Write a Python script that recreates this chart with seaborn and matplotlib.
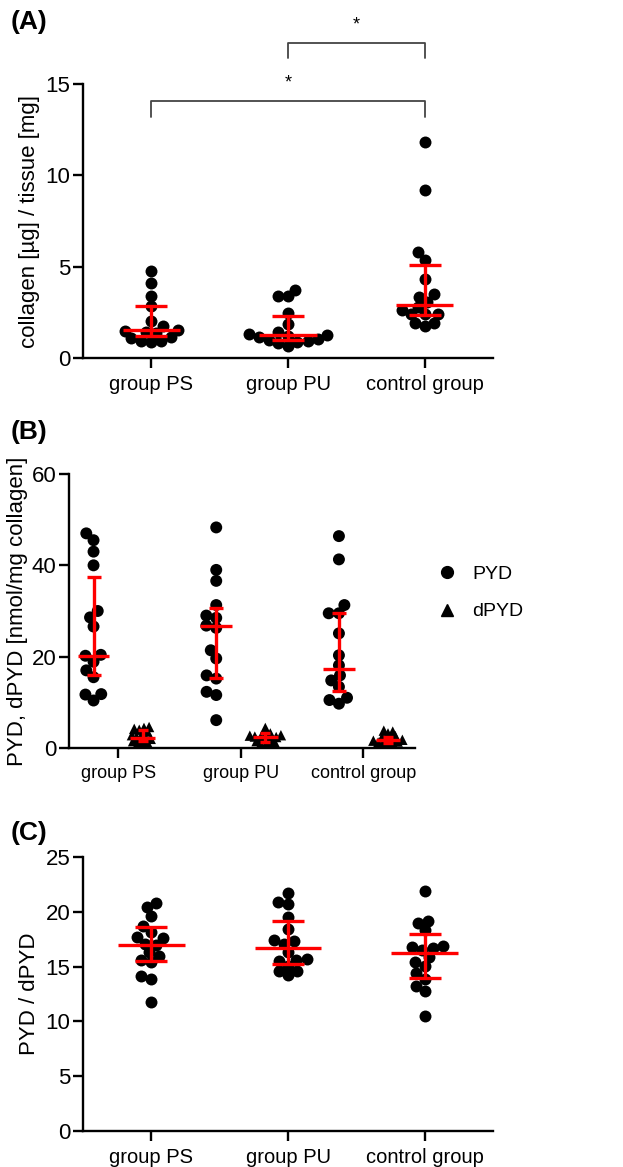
import numpy as np
import pandas as pd
import matplotlib
matplotlib.use("Agg")
import matplotlib.pyplot as plt
from matplotlib.lines import Line2D
import seaborn as sns

sns.set_style("ticks")
plt.rcParams['font.family'] = ['Liberation Sans', 'DejaVu Sans']
plt.rcParams['text.color'] = 'black'
plt.rcParams['axes.labelcolor'] = 'black'

groups = ["group PS", "group PU", "control group"]

# (A) collagen content
coll_ps = [4.74, 4.12, 3.41, 2.85, 2.03, 1.76, 1.55, 1.48, 1.42, 1.38, 1.15, 1.08, 0.95, 0.91, 0.90]
coll_pu = [3.75, 3.42, 3.38, 2.48, 1.84, 1.40, 1.32, 1.28, 1.22, 1.15, 1.05, 1.00, 0.95, 0.88, 0.82, 0.68]
coll_ctrl = [11.84, 9.20, 5.78, 5.36, 4.32, 3.48, 3.36, 3.08, 2.81, 2.63, 2.39, 2.39, 2.39, 1.90, 1.90, 1.75]
coll_med = [1.51, 1.24, 2.88]
coll_q1 = [1.19, 0.97, 2.34]
coll_q3 = [2.83, 2.28, 5.07]

# (B) PYD and dPYD
pyd_ps = [47.0, 45.5, 43.0, 40.0, 30.0, 28.6, 26.6, 20.4, 20.2, 18.9, 17.0, 15.5, 11.8, 11.7, 10.4]
pyd_pu = [48.3, 39.0, 36.6, 31.3, 29.0, 28.5, 26.8, 26.3, 21.4, 19.6, 15.9, 15.2, 12.3, 11.6, 6.1]
pyd_ctrl = [46.4, 41.3, 31.3, 29.5, 29.5, 25.1, 20.3, 18.1, 15.9, 14.8, 13.4, 11.0, 10.5, 9.7]
dpyd_ps = [4.6, 4.4, 4.2, 4.0, 3.6, 3.2, 2.8, 2.4, 2.2, 2.0, 1.8, 1.5, 1.2, 1.0, 0.8]
dpyd_pu = [4.4, 3.2, 3.0, 2.8, 2.7, 2.5, 2.4, 2.3, 2.1, 1.9, 1.5, 1.3, 1.1, 0.8, 0.5]
dpyd_ctrl = [3.8, 3.6, 3.2, 2.6, 2.3, 2.0, 1.8, 1.7, 1.6, 1.4, 1.2, 1.0, 0.9, 0.7]
pyd_med = [20.2, 26.7, 17.4]
pyd_q1 = [15.9, 15.4, 12.4]
pyd_q3 = [37.5, 30.6, 29.5]
dpyd_med = [2.2, 2.3, 1.7]
dpyd_q1 = [1.5, 1.3, 1.1]
dpyd_q3 = [3.9, 3.2, 2.4]

# (C) PYD / dPYD ratio
ratio_ps = [20.8, 20.4, 19.6, 18.7, 18.2, 17.7, 17.6, 17.1, 17.0, 16.3, 16.0, 15.6, 15.4, 14.1, 13.9, 11.8]
ratio_pu = [21.7, 20.9, 20.7, 19.5, 18.4, 17.4, 17.3, 17.1, 16.3, 15.7, 15.6, 15.5, 15.1, 14.6, 14.6, 14.2]
ratio_ctrl = [21.9, 19.2, 19.0, 18.3, 16.9, 16.8, 16.7, 16.5, 15.9, 15.4, 15.1, 14.4, 13.9, 13.2, 12.8, 10.5]
ratio_med = [17.0, 16.7, 16.2]
ratio_q1 = [15.5, 15.2, 14.0]
ratio_q3 = [18.6, 19.2, 18.0]


def long_df(lists, kind=None):
    rows = []
    for g, vals in zip(groups, lists):
        for v in vals:
            rows.append({"group": g, "value": v, "kind": kind})
    return pd.DataFrame(rows)


# swarm is laid out with a smaller marker, then shown bigger (points overlap like the original)
resize = []


def swarm(ax, layout_size, show_size, **kw):
    n = len(ax.collections)
    sns.swarmplot(ax=ax, size=layout_size, zorder=3, **kw)
    for c in ax.collections[n:]:
        resize.append((c, show_size))


def med_iqr(ax, pos, med, q1, q3, half, cap, lw=2.4):
    pos = np.asarray(pos, dtype=float)
    med = np.asarray(med)
    ax.hlines(med, pos - half, pos + half, color="red", lw=lw, zorder=5)
    ax.errorbar(pos, med, yerr=[med - np.asarray(q1), np.asarray(q3) - med],
                fmt="none", ecolor="red", elinewidth=lw, capsize=cap,
                capthick=lw, zorder=5)


def style_axis(ax, yticks, xmin, xmax, xfs=14.5, yfs=16):
    sns.despine(ax=ax)
    ax.set_xlim(xmin, xmax)
    ax.set_ylim(yticks[0], yticks[-1])
    ax.set_yticks(yticks)
    ax.set_xlabel("")
    for s in ["left", "bottom"]:
        ax.spines[s].set_linewidth(1.7)
        ax.spines[s].set_color("black")
    ax.tick_params(axis="both", width=1.7, length=7, color="black", labelcolor="black")
    ax.tick_params(axis="x", labelsize=xfs, pad=5)
    ax.tick_params(axis="y", labelsize=yfs, pad=2)


fig = plt.figure(figsize=(6.23, 11.67), dpi=100)
W, H = 623, 1167
axA = fig.add_axes([83 / W, 1 - 358 / H, 410 / W, 274 / H])
axB = fig.add_axes([69 / W, 1 - 748 / H, 346 / W, 274 / H])
axC = fig.add_axes([83 / W, 1 - 1131 / H, 410 / W, 274 / H])

# panel A
dfA = long_df([coll_ps, coll_pu, coll_ctrl])
swarm(axA, 7.0, 8.6, data=dfA, x="group", y="value", order=groups, color="black")
med_iqr(axA, range(3), coll_med, coll_q1, coll_q3, 0.21, 11.5)
style_axis(axA, [0, 5, 10, 15], -0.5, 2.5)
axA.set_ylabel("collagen [µg] / tissue [mg]", fontsize=16, labelpad=4)
br = "#444444"
axA.plot([1, 1, 2, 2], [16.42, 17.24, 17.24, 16.42], color=br, lw=1.3, clip_on=False)
axA.text(1.5, 18.25, "*", ha="center", va="center", fontsize=13)
axA.plot([0, 0, 2, 2], [13.19, 14.07, 14.07, 13.19], color=br, lw=1.3, clip_on=False)
axA.text(1.0, 15.05, "*", ha="center", va="center", fontsize=13)

# panel B
dfB_pyd = long_df([pyd_ps, pyd_pu, pyd_ctrl], "PYD")
dfB_dpyd = long_df([dpyd_ps, dpyd_pu, dpyd_ctrl], "dPYD")
kinds = ["PYD", "dPYD"]
swarm(axB, 7.0, 8.6, data=dfB_pyd, x="group", y="value", hue="kind", hue_order=kinds,
      order=groups, dodge=True, palette=["black", "black"], marker="o", legend=False)
swarm(axB, 3.5, 7.5, data=dfB_dpyd, x="group", y="value", hue="kind", hue_order=kinds,
      order=groups, dodge=True, palette=["black", "black"], marker="^", legend=False)
pos = np.arange(3)
med_iqr(axB, pos - 0.2, pyd_med, pyd_q1, pyd_q3, 0.13, 5)
med_iqr(axB, pos + 0.2, dpyd_med, dpyd_q1, dpyd_q3, 0.1, 3.6)
style_axis(axB, [0, 20, 40, 60], -0.4, 2.42, xfs=13, yfs=16)
axB.set_ylabel("PYD, dPYD [nmol/mg collagen]", fontsize=16, labelpad=3)
handles = [Line2D([], [], ls="none", marker="o", color="black", markersize=8.5),
           Line2D([], [], ls="none", marker="^", color="black", markersize=8.5)]
fig.legend(handles, kinds, loc="center left", bbox_to_anchor=(420 / W, 1 - 593 / H),
           frameon=False, fontsize=14, handletextpad=0.8, labelspacing=1.0,
           handlelength=1.0)

# panel C
dfC = long_df([ratio_ps, ratio_pu, ratio_ctrl])
swarm(axC, 7.0, 8.6, data=dfC, x="group", y="value", order=groups, color="black")
med_iqr(axC, range(3), ratio_med, ratio_q1, ratio_q3, 0.245, 11.5)
style_axis(axC, [0, 5, 10, 15, 20, 25], -0.5, 2.5)
axC.set_ylabel("PYD / dPYD", fontsize=16, labelpad=4)

for lab, y in [("(A)", 22), ("(B)", 432), ("(C)", 833)]:
    fig.text(11 / W, 1 - y / H, lab, fontsize=19, fontweight="bold", va="center", ha="left")

# first draw places the swarm points, then freeze them and enlarge the markers
fig.canvas.draw()
for c, s in resize:
    if "draw" in c.__dict__:
        del c.draw
    c.set_sizes([s ** 2])

fig.savefig("out.png", dpi=100)
